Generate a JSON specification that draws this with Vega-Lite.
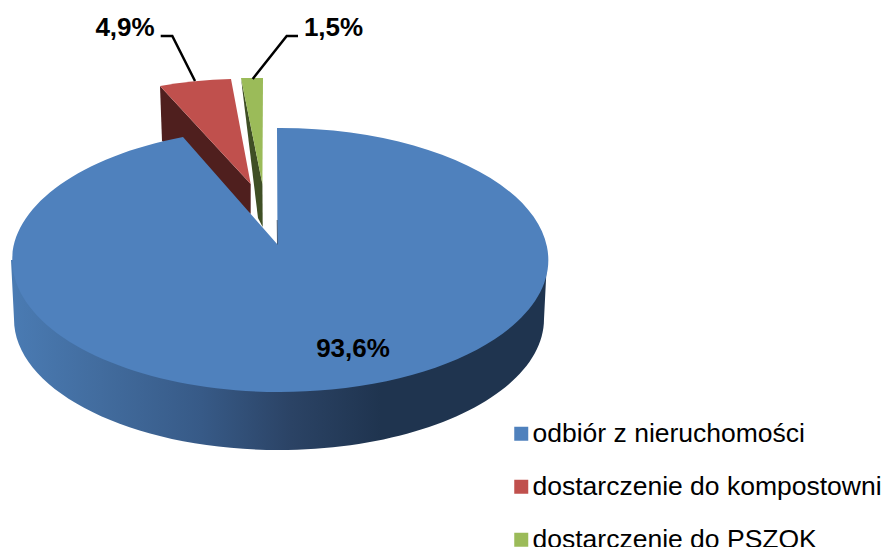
{
"$schema":"https://vega.github.io/schema/vega-lite/v6.json",
"width":885,"height":547,"padding":0,"autosize":{"type":"none"},
"background":"white",
"view":{"stroke":null},
"config":{"text":{"font":"Liberation Sans"}},
"datasets":{"slices":[
{"category":"dostarczenie do kompostowni","share":4.9,"label":"4,9%"},
{"category":"dostarczenie do PSZOK","share":1.5,"label":"1,5%"},
{"category":"odbiór z nieruchomości","share":93.6,"label":"93,6%"}
]},
"data":{"name":"slices"},
"encoding":{
"x":{"datum":279,"type":"quantitative","scale":{"domain":[0,885],"range":[0,885]},"axis":null},
"y":{"datum":260,"type":"quantitative","scale":{"domain":[0,547],"range":[0,547]},"axis":null}
},
"layer":[
{"mark":{"type":"square","size":4,"opacity":1},
"encoding":{"color":{"field":"category","type":"nominal","scale":{"domain":["odbiór z nieruchomości","dostarczenie do kompostowni","dostarczenie do PSZOK"],"range":["#4F81BD","#C0504D","#9BBB59"]},
"legend":{"title":null,"orient":"none","legendX":508,"legendY":420.5,"symbolType":"square","symbolSize":196,"symbolOpacity":1,"labelFont":"Liberation Sans","labelFontSize":26.5,"labelColor":"#000000","labelLimit":400,"rowPadding":26,"labelOffset":-2}}}},
{"transform":[{"filter":"datum.share>50"}],
"mark":{"type":"point","filled":true,"size":4,"opacity":1,"shape":"M-268 0L-265 59A265 131 0 0 0 265 59L268 0Z",
"fill":{"gradient":"linear","x1":0,"x2":1,"y1":0,"y2":0,"stops":[{"offset":0,"color":"#4A7BB3"},{"offset":0.167,"color":"#426C9E"},{"offset":0.355,"color":"#375A87"},{"offset":0.523,"color":"#2B4365"},{"offset":0.69,"color":"#1F344F"},{"offset":1,"color":"#1F344F"}]}}},
{"transform":[{"filter":"datum.share==4.9"}],
"mark":{"type":"point","filled":true,"size":4,"opacity":1,"fill":"#4F1F1E","shape":"M-119 -174L-28.3 -76L-28.3 -46L-117 -119Z"}},
{"transform":[{"filter":"datum.share==1.5"}],
"mark":{"type":"point","filled":true,"size":4,"opacity":1,"fill":"#3F4F25","shape":"M-38 -182L-16.6 -76L-16.3 -33L-21 -42Z"}},
{"transform":[{"filter":"datum.share==4.9"}],
"mark":{"type":"point","filled":true,"size":4,"opacity":1,"fill":"#C0504D","shape":"M-119 -174A268 132 0 0 1 -48 -181L-28.3 -76Z"}},
{"transform":[{"filter":"datum.share==1.5"}],
"mark":{"type":"point","filled":true,"size":4,"opacity":1,"fill":"#9BBB59","shape":"M-38 -182L-16 -182L-16.6 -76Z"}},
{"transform":[{"filter":"datum.share>50"}],
"mark":{"type":"point","filled":true,"size":4,"opacity":1,"fill":"#4F81BD","shape":"M-1.5 -15.5L-2 -132A268 132 0 1 1 -96 -123Z"}},
{"transform":[{"filter":"datum.share>50"}],
"mark":{"type":"point","filled":false,"size":4,"opacity":0.7,"stroke":"#1F344F","strokeWidth":1,"shape":"M-1.8 -40L-1.5 -15.5"}},
{"transform":[{"filter":"datum.share==4.9"}],
"mark":{"type":"point","filled":false,"size":4,"opacity":1,"stroke":"#000000","strokeWidth":2.5,"shape":"M-118.3 -224L-106.7 -224L-84 -179"}},
{"transform":[{"filter":"datum.share==1.5"}],
"mark":{"type":"point","filled":false,"size":4,"opacity":1,"stroke":"#000000","strokeWidth":2.5,"shape":"M19 -224L7.7 -224L-26.3 -181"}},
{"transform":[{"filter":"datum.share==4.9"}],
"mark":{"type":"text","fontWeight":"bold","fontSize":26,"font":"Liberation Sans","color":"#000000","align":"center","baseline":"middle"},
"encoding":{"text":{"field":"label"},"x":{"datum":125},"y":{"datum":28}}},
{"transform":[{"filter":"datum.share==1.5"}],
"mark":{"type":"text","fontWeight":"bold","fontSize":26,"font":"Liberation Sans","color":"#000000","align":"center","baseline":"middle"},
"encoding":{"text":{"field":"label"},"x":{"datum":333.5},"y":{"datum":28}}},
{"transform":[{"filter":"datum.share>50"}],
"mark":{"type":"text","fontWeight":"bold","fontSize":26,"font":"Liberation Sans","color":"#000000","align":"center","baseline":"middle"},
"encoding":{"text":{"field":"label"},"x":{"datum":353},"y":{"datum":349}}}
]
}
